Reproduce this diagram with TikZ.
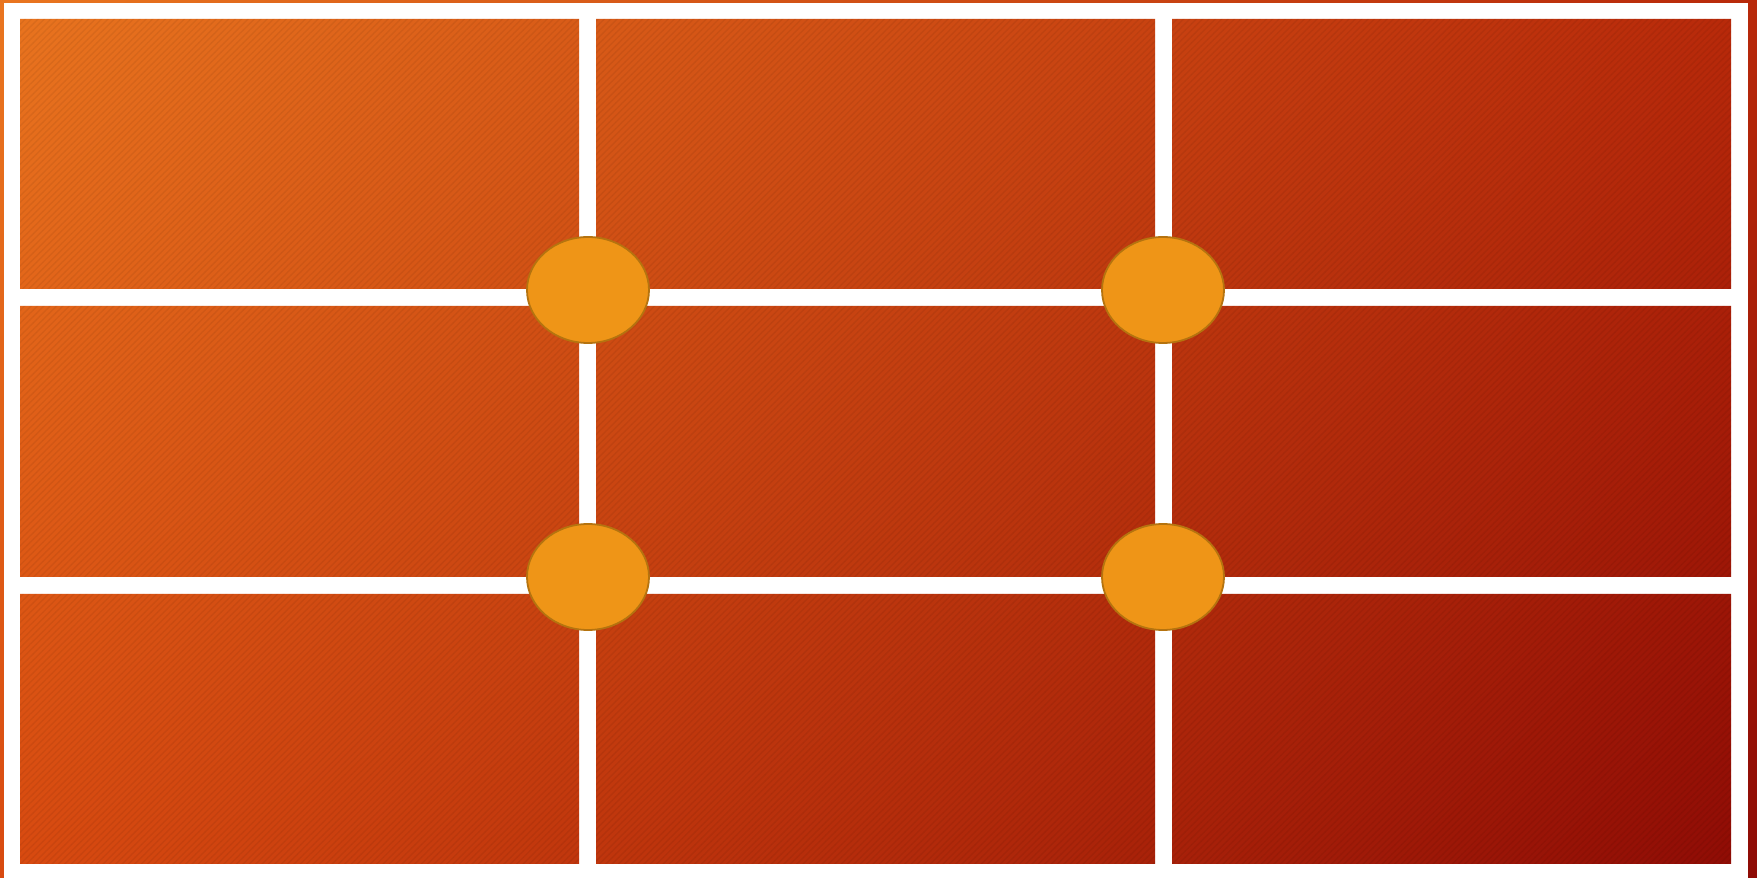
\documentclass[tikz,border=0pt]{standalone}
\usetikzlibrary{shapes.geometric,patterns.meta,shadings}
\definecolor{cTL}{HTML}{E9751F}
\definecolor{cTR}{HTML}{B8290A}
\definecolor{cBL}{HTML}{D84A10}
\definecolor{cBR}{HTML}{8E0B05}
\definecolor{dotfill}{HTML}{EF9517}
\definecolor{dotline}{HTML}{B5730F}
\tikzset{
  panel/.style={rectangle, draw=none, inner sep=0pt, minimum width=559pt, minimum height=270pt, anchor=south west},
  dot/.style={ellipse, fill=dotfill, draw=dotline, line width=1.8pt, minimum width=122pt, minimum height=106pt, inner sep=0pt},
  bggrad/.style={upper left=cTL, upper right=cTR, lower left=cBL, lower right=cBR}
}
\begin{document}
\begin{tikzpicture}[x=1pt,y=1pt]
\useasboundingbox (0,0) rectangle (1757,878);
% outer gradient band
\shade[bggrad] (0,0) rectangle (1757,878);
\fill[white] (4,-2) rectangle (1748,875);
% panels (clip region)
\begin{scope}
\clip (20,589) rectangle (579,859) (596,589) rectangle (1155,859) (1172,589) rectangle (1731,859)
      (20,301) rectangle (579,572) (596,301) rectangle (1155,572) (1172,301) rectangle (1731,572)
      (20,14) rectangle (579,284) (596,14) rectangle (1155,284) (1172,14) rectangle (1731,284);
\shade[bggrad] (0,0) rectangle (1757,878);
\fill[pattern={Lines[angle=45,distance=4.5pt,line width=1.4pt]}, pattern color=black, opacity=0.06] (0,0) rectangle (1757,878);
\end{scope}
% named panels
\node[panel] (p11) at (20,589) {};
\node[panel] (p12) at (596,589) {};
\node[panel] (p13) at (1172,589) {};
\node[panel] (p21) at (20,301) {};
\node[panel] (p22) at (596,301) {};
\node[panel] (p23) at (1172,301) {};
\node[panel] (p31) at (20,14) {};
\node[panel] (p32) at (596,14) {};
\node[panel] (p33) at (1172,14) {};
% ellipses
\node[dot] (e1) at (588,588) {};
\node[dot] (e2) at (1163,588) {};
\node[dot] (e3) at (588,301) {};
\node[dot] (e4) at (1163,301) {};
\end{tikzpicture}
\end{document}
